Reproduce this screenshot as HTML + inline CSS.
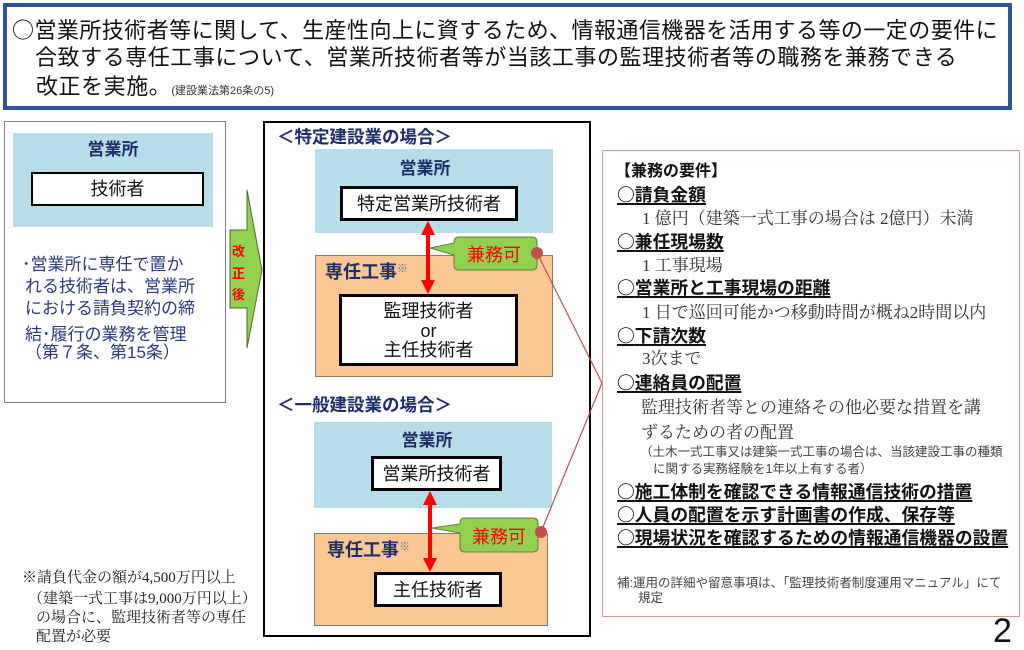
<!DOCTYPE html>
<html><head><meta charset="utf-8">
<style>
*{margin:0;padding:0;box-sizing:border-box}
body{width:1024px;height:648px;background:#fff;overflow:hidden;position:relative;font-family:"Liberation Sans","Noto Sans CJK JP",sans-serif}
.a{position:absolute}
.t{position:absolute;white-space:nowrap;line-height:1}
.s{font-family:"Liberation Serif","Noto Serif CJK SC",serif}
.g{font-family:"Liberation Sans","Noto Sans CJK JP",sans-serif}
.o{font-family:"Noto Sans CJK JP",sans-serif}
.nv{color:#1f2d6b;font-weight:bold}
.bx{position:absolute;background:#fff;border:3px solid #000}
.c{text-align:center}
.h{font-weight:bold;color:#111;font-size:17.8px;text-decoration:underline;text-decoration-thickness:1.5px;text-underline-offset:2px}
.b{font-size:17px;color:#333}
.sm{font-size:12.5px;color:#444}
</style></head><body>

<!-- top box -->
<div class="a" style="left:3px;top:3px;width:1009px;height:107px;border:4px solid #2f5496"></div>
<div class="t" style="left:12px;top:18px;font-size:22px;letter-spacing:0.45px;color:#111"><span class="o">○</span>営業所技術者等に関して、生産性向上に資するため、情報通信機器を活用する等の一定の要件に</div>
<div class="t" style="left:35px;top:47px;font-size:22px;letter-spacing:0.55px;color:#111">合致する専任工事について、営業所技術者等が当該工事の監理技術者等の職務を兼務できる</div>
<div class="t" style="left:36px;top:76px;font-size:22px;letter-spacing:0.55px;color:#111">改正を実施。<span style="font-size:11px;letter-spacing:0;color:#333">(建設業法第26条の5)</span></div>

<!-- left box -->
<div class="a" style="left:4px;top:121px;width:222px;height:282px;border:1px solid #808080"></div>
<div class="a" style="left:13px;top:133px;width:200px;height:94px;background:#b7dde8"></div>
<div class="t nv c" style="left:13px;width:200px;top:141px;font-size:17px">営業所</div>
<div class="bx" style="left:31px;top:172px;width:173px;height:34px;border-width:2.5px"></div>
<div class="t c" style="left:31px;width:173px;top:180px;font-size:18px;color:#111">技術者</div>
<div class="t" style="left:22px;top:253.5px;font-size:17px;color:#2b3a7a"><span class="o">･</span>営業所に専任で置か</div>
<div class="t" style="left:25px;top:277.5px;font-size:17px;color:#2b3a7a">れる技術者は、営業所</div>
<div class="t" style="left:25px;top:299.5px;font-size:17px;color:#2b3a7a">における請負契約の締</div>
<div class="t" style="left:25px;top:323.5px;font-size:17px;color:#2b3a7a">結<span class="o">･</span>履行の業務を管理</div>
<div class="t" style="left:25px;top:343.5px;font-size:17px;color:#2b3a7a">（第７条、第15条）</div>

<!-- note -->
<div class="t s" style="left:22px;top:570.5px;font-size:15px;color:#222">※請負代金の額が4,500万円以上</div>
<div class="t s" style="left:28px;top:591.5px;font-size:15px;color:#222">（建築一式工事は9,000万円以上）</div>
<div class="t s" style="left:36px;top:610.5px;font-size:15px;color:#222">の場合に、監理技術者等の専任</div>
<div class="t s" style="left:36px;top:629.5px;font-size:15px;color:#222">配置が必要</div>

<!-- middle box -->
<div class="a" style="left:263px;top:121px;width:328px;height:516px;border:2px solid #000"></div>
<div class="t nv" style="left:277px;top:129px;font-size:17.5px">＜特定建設業の場合＞</div>
<div class="a" style="left:315px;top:149px;width:238px;height:84px;background:#b7dde8"></div>
<div class="t nv c" style="left:385px;width:80px;top:159.5px;font-size:17px">営業所</div>
<div class="bx" style="left:340px;top:186px;width:178px;height:35px"></div>
<div class="t c" style="left:340px;width:178px;top:194.5px;font-size:18px;color:#111">特定営業所技術者</div>
<div class="a" style="left:315px;top:255px;width:238px;height:122px;background:#fbc794;border:1px solid #8a7a6a"></div>
<div class="t nv" style="left:325px;top:263px;font-size:18px">専任工事<span style="font-size:11px;vertical-align:6px;font-weight:normal;color:#6a6a8a">※</span></div>
<div class="bx" style="left:339px;top:294px;width:179px;height:72px"></div>
<div class="t c" style="left:339px;width:179px;top:302px;font-size:18px;color:#111">監理技術者</div>
<div class="t c" style="left:339px;width:179px;top:322px;font-size:18px;color:#111">or</div>
<div class="t c" style="left:339px;width:179px;top:341px;font-size:18px;color:#111">主任技術者</div>

<div class="t nv" style="left:277px;top:397px;font-size:17.5px">＜一般建設業の場合＞</div>
<div class="a" style="left:314px;top:422px;width:238px;height:86px;background:#b7dde8"></div>
<div class="t nv c" style="left:387px;width:80px;top:431.5px;font-size:17px">営業所</div>
<div class="bx" style="left:371px;top:456px;width:131px;height:35px"></div>
<div class="t c" style="left:371px;width:131px;top:464.5px;font-size:18px;color:#111">営業所技術者</div>
<div class="a" style="left:314px;top:533px;width:234px;height:93px;background:#fbc794;border:1px solid #8a7a6a"></div>
<div class="t nv" style="left:327px;top:541px;font-size:18px">専任工事<span style="font-size:11px;vertical-align:6px;font-weight:normal;color:#6a6a8a">※</span></div>
<div class="bx" style="left:374px;top:572px;width:128px;height:35px"></div>
<div class="t c" style="left:374px;width:128px;top:580.5px;font-size:18px;color:#111">主任技術者</div>

<!-- right box -->
<div class="a" style="left:602px;top:150px;width:418px;height:467px;border:1px solid #d99694"></div>

<svg class="a" style="left:0;top:0" width="1024" height="648" viewBox="0 0 1024 648">
  <path d="M230,230 H247 V190 L262,270 L247,348 V308 H230 Z" fill="#92d050" stroke="#4f6b2e" stroke-width="1"/>
  <polygon points="428,221 435,235 430,235 430,280 435,280 428,294 421,280 426,280 426,235 421,235" fill="#ff0000"/>
  <polygon points="430,491 437,505 432,505 432,558 437,558 430,572 423,558 428,558 428,505 423,505" fill="#ff0000"/>
  <path d="M459,237 H532 Q537,237 537,242 V265 Q537,270 532,270 H459 Q454,270 454,265 V255 L430,248 L454,243 V242 Q454,237 459,237 Z" fill="#92d050" stroke="#5f7f3a" stroke-width="1"/>
  <path d="M465,518 H533 Q538,518 538,523 V547 Q538,552 533,552 H465 Q460,552 460,547 V533 L432,528 L460,524 V523 Q460,518 465,518 Z" fill="#92d050" stroke="#5f7f3a" stroke-width="1"/>
  <line x1="537" y1="253" x2="602" y2="383" stroke="#c0504d" stroke-width="1.2"/>
  <line x1="541" y1="532" x2="602" y2="383" stroke="#c0504d" stroke-width="1.2"/>
  <circle cx="537" cy="253" r="6" fill="#c0504d"/>
  <circle cx="541" cy="532" r="6" fill="#c0504d"/>
</svg>

<div class="t" style="left:232px;top:244.5px;font-size:13px;color:#ff0000;font-weight:bold">改</div>
<div class="t" style="left:232px;top:266.5px;font-size:13px;color:#ff0000;font-weight:bold">正</div>
<div class="t" style="left:232px;top:287.5px;font-size:13px;color:#ff0000;font-weight:bold">後</div>
<div class="t c" style="left:454px;width:80px;top:246px;font-size:18px;color:#ff0000">兼務可</div>
<div class="t c" style="left:459px;width:80px;top:528px;font-size:18px;color:#ff0000">兼務可</div>

<!-- right text -->
<div class="t" style="left:615px;top:164px;font-size:16px;font-weight:bold;color:#111">【兼務の要件】</div>
<div class="t h" style="left:617px;top:186px"><span class="o">○</span>請負金額</div>
<div class="t s b" style="left:642px;top:209.5px">1 億円（建築一式工事の場合は 2億円）未満</div>
<div class="t h" style="left:617px;top:233px"><span class="o">○</span>兼任現場数</div>
<div class="t s b" style="left:642px;top:256.5px">1 工事現場</div>
<div class="t h" style="left:617px;top:279px"><span class="o">○</span>営業所と工事現場の距離</div>
<div class="t s b" style="left:642px;top:303.5px">1 日で巡回可能かつ移動時間が概ね2時間以内</div>
<div class="t h" style="left:617px;top:327px"><span class="o">○</span>下請次数</div>
<div class="t s b" style="left:642px;top:349.5px">3次まで</div>
<div class="t h" style="left:617px;top:374px"><span class="o">○</span>連絡員の配置</div>
<div class="t s b" style="left:641px;top:398.5px">監理技術者等との連絡その他必要な措置を講</div>
<div class="t s b" style="left:641px;top:423.5px">ずるための者の配置</div>
<div class="t sm" style="left:640px;top:445.5px">（土木一式工事又は建築一式工事の場合は、当該建設工事の種類</div>
<div class="t sm" style="left:653px;top:462.5px">に関する実務経験を1年以上有する者）</div>
<div class="t h" style="left:617px;top:483px"><span class="o">○</span>施工体制を確認できる情報通信技術の措置</div>
<div class="t h" style="left:617px;top:506px"><span class="o">○</span>人員の配置を示す計画書の作成、保存等</div>
<div class="t h" style="left:617px;top:529px"><span class="o">○</span>現場状況を確認するための情報通信機器の設置</div>
<div class="t sm" style="left:617px;top:576.5px">補:運用の詳細や留意事項は、「監理技術者制度運用マニュアル」にて</div>
<div class="t sm" style="left:638px;top:591.5px">規定</div>

<div class="t g" style="left:993px;top:614px;font-size:34px;line-height:34px;color:#111">2</div>

</body></html>
